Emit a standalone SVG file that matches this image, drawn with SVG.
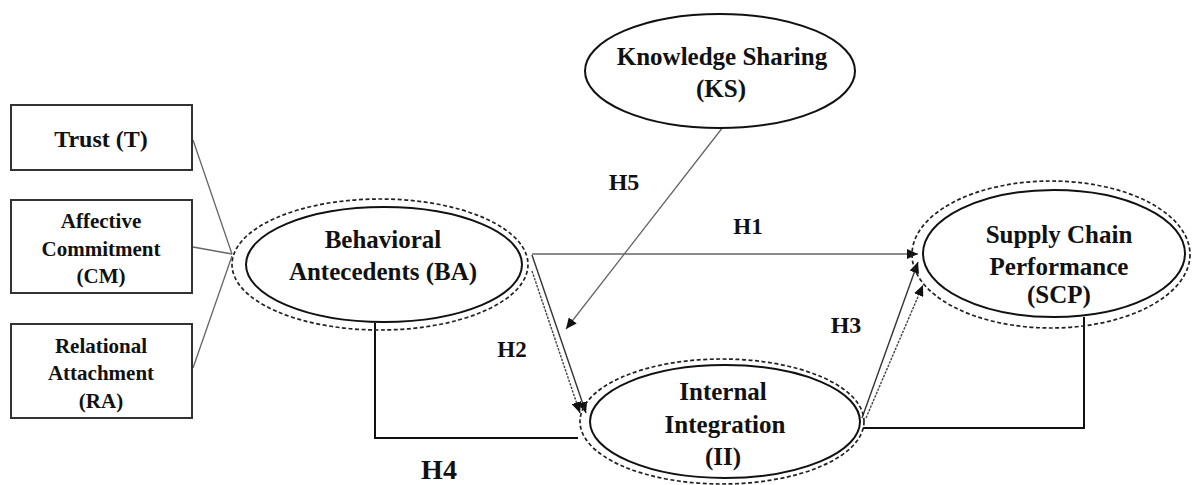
<svg xmlns="http://www.w3.org/2000/svg" width="1195" height="485" viewBox="0 0 1195 485">
<style>
.t{font-family:"Liberation Serif","Times New Roman",serif;font-weight:bold;fill:#111;text-anchor:middle}
.box{fill:#fff;stroke:#333;stroke-width:2}
.in{fill:#fff;stroke:#111;stroke-width:2}
.out{fill:none;stroke:#222;stroke-width:1.7;stroke-dasharray:4 2.5}
.thin{fill:none;stroke:#666;stroke-width:1.3}
.dk{fill:none;stroke:#333;stroke-width:1.4}
.dot{fill:none;stroke:#444;stroke-width:1.4;stroke-dasharray:2.5 1.2}
.blk{fill:none;stroke:#111;stroke-width:2}
</style>
<defs>
<marker id="ah" markerUnits="userSpaceOnUse" markerWidth="12" markerHeight="10" refX="11" refY="5" orient="auto">
<path d="M0,0 L11,5 L0,10 z" fill="#111"/>
</marker>
</defs>
<rect width="1195" height="485" fill="#fff"/>
<g id="connectors">
<line class="thin" x1="193" y1="140" x2="232" y2="254"/>
<line class="thin" x1="193" y1="247" x2="232" y2="254"/>
<line class="thin" x1="193" y1="368" x2="232" y2="256"/>
<line class="thin" x1="532" y1="254" x2="918" y2="254" marker-end="url(#ah)"/>
<line class="thin" x1="723" y1="127" x2="566" y2="329" marker-end="url(#ah)"/>
<line class="dk" x1="532" y1="255" x2="586" y2="413" marker-end="url(#ah)"/>
<line class="dot" x1="532" y1="271" x2="580" y2="413" marker-end="url(#ah)"/>
<line class="dk" x1="862" y1="418" x2="918" y2="262" marker-end="url(#ah)"/>
<line class="dot" x1="866" y1="418" x2="923" y2="285" marker-end="url(#ah)"/>
<polyline class="blk" points="375,323 375,438 578,438"/>
<polyline class="blk" points="863,428 1084,428 1084,317"/>
</g>
<g id="trust">
<rect class="box" x="11" y="105" width="181" height="65"/>
<text class="t" x="101" y="147" font-size="24">Trust (T)</text>
</g>
<g id="affective">
<rect class="box" x="11" y="200" width="181" height="93"/>
<text class="t" x="101" y="228" font-size="21">Affective</text>
<text class="t" x="101" y="256" font-size="21">Commitment</text>
<text class="t" x="101" y="283" font-size="21">(CM)</text>
</g>
<g id="relational">
<rect class="box" x="11" y="324" width="181" height="94"/>
<text class="t" x="101" y="353" font-size="21">Relational</text>
<text class="t" x="101" y="380" font-size="21">Attachment</text>
<text class="t" x="101" y="408" font-size="21">(RA)</text>
</g>
<g id="ba">
<ellipse class="out" cx="380" cy="264.5" rx="148" ry="65.5"/>
<ellipse class="in" cx="384" cy="264.5" rx="138" ry="57.5"/>
<text class="t" x="383" y="248" font-size="25">Behavioral</text>
<text class="t" x="383" y="280" font-size="25">Antecedents (BA)</text>
</g>
<g id="ks">
<ellipse class="in" cx="720" cy="71" rx="135" ry="57"/>
<text class="t" x="722" y="65" font-size="25">Knowledge Sharing</text>
<text class="t" x="721" y="97" font-size="25">(KS)</text>
</g>
<g id="ii">
<ellipse class="out" cx="722" cy="421.5" rx="142" ry="62.5"/>
<ellipse class="in" cx="725" cy="421.5" rx="135" ry="56.5"/>
<text class="t" x="723" y="400" font-size="25">Internal</text>
<text class="t" x="725" y="433" font-size="25">Integration</text>
<text class="t" x="723" y="465" font-size="25">(II)</text>
</g>
<g id="scp">
<ellipse class="out" cx="1051" cy="254.5" rx="139" ry="73.5"/>
<ellipse class="in" cx="1054" cy="253.5" rx="131" ry="63.5"/>
<text class="t" x="1059" y="243" font-size="25">Supply Chain</text>
<text class="t" x="1059" y="275" font-size="25">Performance</text>
<text class="t" x="1059" y="303" font-size="25">(SCP)</text>
</g>
<g id="labels">
<text class="t" x="748" y="234" font-size="23">H1</text>
<text class="t" x="512" y="357" font-size="23">H2</text>
<text class="t" x="846" y="333" font-size="24">H3</text>
<text class="t" x="439" y="479" font-size="28">H4</text>
<text class="t" x="624" y="190" font-size="24">H5</text>
</g>
</svg>
